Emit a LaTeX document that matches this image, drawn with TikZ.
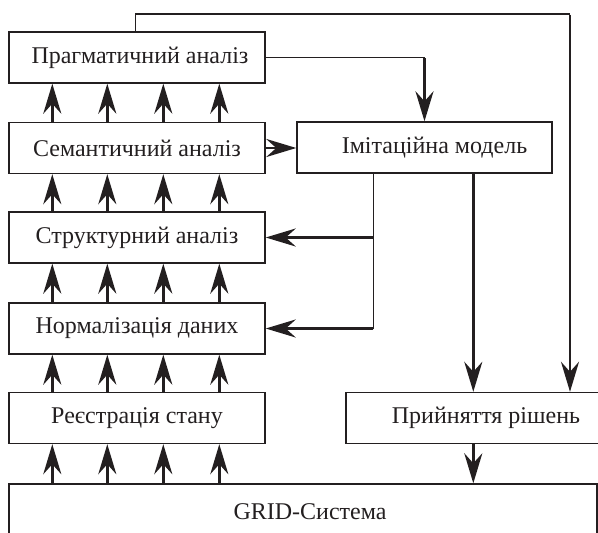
\documentclass[tikz,border=0pt]{standalone}
\usepackage{fontspec}
\setmainfont{Liberation Serif}
\usepackage{xcolor}
\usepackage{tikz}
\usetikzlibrary{arrows.meta, positioning, calc}
\definecolor{gridink}{HTML}{231F20}
\tikzset{
  blockbox/.style={draw=gridink, line width=1.4pt, rectangle, inner sep=0pt,
    minimum height=51pt, text=gridink, font=\fontsize{24}{28}\selectfont},
  wire/.style={draw=gridink, line width=1.4pt},
  flow/.style={draw=gridink, line width=2.9pt,
    -{Stealth[length=30pt, width=18pt, inset=10pt]}},
}

\begin{document}
\begin{tikzpicture}[x=1pt, y=-1pt]
      \useasboundingbox (0,0) rectangle (598,533);
      \clip (0,0) rectangle (598,533);
      \node[blockbox, minimum width=256pt] (prag) at (137,57.5) {\hspace*{6pt}Прагматичний аналіз};
      \node[blockbox, minimum width=256pt] (sem) at (137,148) {Семантичний аналіз};
      \node[blockbox, minimum width=256pt] (struk) at (137,237.5) {Структурний аналіз};
      \node[blockbox, minimum width=256pt] (norm) at (137,328.5) {Нормалізація даних};
      \node[blockbox, minimum width=256pt] (reg) at (137,418) {Реєстрація стану};
      \node[blockbox, minimum width=255pt] (imit) at (424.5,147.5) {\hspace*{20pt}Імітаційна модель};
      \node[blockbox, minimum width=280pt] (rish) at (486,418) {Прийняття рішень};
      \node[blockbox, minimum width=588pt, minimum height=56pt] (grid) at (303,512) {\hspace*{14pt}GRID-Система};
      \coordinate (topc) at (570,14);
      \coordinate (fb) at ([xshift=77pt]imit.south west);
      \coordinate (dec) at ([xshift=177pt]imit.south west);
      \foreach \dx in {44,99,155,211} {
        \draw[flow] ([xshift=\dx pt]grid.north west) -- ([xshift=\dx pt]reg.south west);
        \draw[flow] ([xshift=\dx pt]reg.north west) -- ([xshift=\dx pt]norm.south west);
        \draw[flow] ([xshift=\dx pt]norm.north west) -- ([xshift=\dx pt]struk.south west);
        \draw[flow] ([xshift=\dx pt]struk.north west) -- ([xshift=\dx pt]sem.south west);
        \draw[flow] ([xshift=\dx pt]sem.north west) -- ([xshift=\dx pt]prag.south west);
      }
      \draw[wire] ([xshift=127pt]prag.north west) |- (topc);
      \draw[flow] ([yshift=-0.7pt]topc) -- (topc |- rish.north);
      \draw[wire] (prag.east) -- (prag.east -| imit.north);
      \draw[flow] ([yshift=-0.7pt]prag.east -| imit.north) -- (imit.north);
      \draw[flow] (sem.east) -- (sem.east -| imit.west);
      \draw[wire] (fb) -- (fb |- norm.east);
      \draw[flow] (fb |- struk.east) -- (struk.east);
      \draw[flow] (fb |- norm.east) -- (norm.east);
      \draw[flow] (dec) -- (dec |- rish.north);
      \draw[flow] (rish.south -| dec) -- (dec |- grid.north);
    \end{tikzpicture}
\end{document}
